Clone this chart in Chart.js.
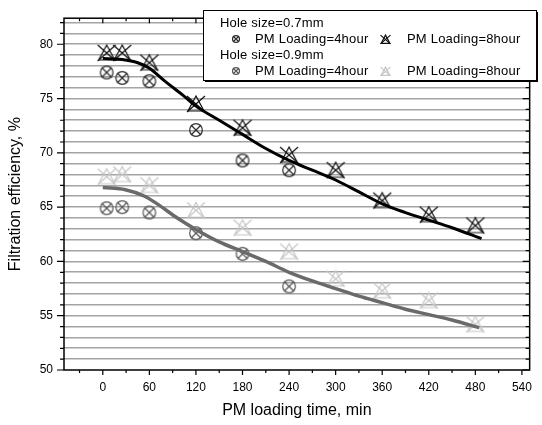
<!DOCTYPE html>
<html lang="en">
<head>
  <meta charset="UTF-8">
  <title>Filtration efficiency vs PM loading time</title>
  <script src="https://cdn.jsdelivr.net/npm/chart.js"></script>
  <style>
    html, body { margin: 0; padding: 0; background: #fff; }
    #wrap { width: 542px; height: 425px; }
  </style>
</head>
<body>
  <div id="wrap"><canvas id="chart" width="542" height="425"></canvas></div>

  <script>
    // measured points
    const time4h = [5, 25, 60, 120, 180, 240];
    const time8h = [5, 25, 60, 120, 180, 240, 300, 360, 420, 480];
    const hole07Load4h = [77.4, 76.9, 76.6, 72.1, 69.3, 68.4];
    const hole07Load8h = [79.2, 79.2, 78.3, 74.5, 72.3, 69.8, 68.4, 65.6, 64.3, 63.3];
    const hole09Load4h = [64.9, 65.0, 64.5, 62.6, 60.7, 57.7];
    const hole09Load8h = [67.8, 68.0, 67.0, 64.7, 63.1, 60.9, 58.4, 57.3, 56.4, 54.2];

    // fitted curves
    const fit07Time = [0, 25, 45, 60, 80, 105, 120, 150, 180, 210, 240, 270, 300, 330, 360, 390, 420, 450, 488];
    const fit07Eff = [78.7, 78.6, 78.3, 77.8, 76.6, 75.2, 74.3, 73.0, 71.7, 70.4, 69.3, 68.4, 67.5, 66.4, 65.3, 64.5, 63.8, 63.1, 62.1];
    const fit09Time = [0, 29, 54, 70, 96, 121, 150, 180, 210, 240, 270, 300, 330, 360, 390, 420, 450, 485];
    const fit09Eff = [66.8, 66.6, 66.0, 65.3, 64.0, 62.9, 61.8, 60.9, 60.0, 59.0, 58.2, 57.5, 56.8, 56.2, 55.6, 55.1, 54.6, 53.9];

    const xTicks = [-30, 0, 30, 60, 90, 120, 150, 180, 210, 240, 270, 300, 330, 360, 390, 420, 450, 480, 510, 540];
    const yTicks = [50, 51, 52, 53, 54, 55, 56, 57, 58, 59, 60, 61, 62, 63, 64, 65, 66, 67, 68, 69, 70, 71, 72, 73, 74, 75, 76, 77, 78, 79, 80, 81, 82];

    const FONT = '"Liberation Sans", Arial, sans-serif';

    function circleX(color, s) {
      const c = document.createElement('canvas');
      const n = Math.ceil(18 * s);
      c.width = n; c.height = n;
      const g = c.getContext('2d');
      g.strokeStyle = color;
      g.lineWidth = 1.2;
      const m = n / 2, r = 6.3 * s;
      g.beginPath(); g.arc(m, m, r, 0, Math.PI * 2); g.stroke();
      const d = r * 0.8;
      g.beginPath();
      g.moveTo(m - d, m - d); g.lineTo(m + d, m + d);
      g.moveTo(m + d, m - d); g.lineTo(m - d, m + d);
      g.stroke();
      return c;
    }

    function triX(color, s) {
      const c = document.createElement('canvas');
      const n = Math.ceil(22 * s);
      c.width = n; c.height = n;
      const g = c.getContext('2d');
      g.strokeStyle = color;
      g.lineWidth = 1.2;
      const m = n / 2;
      g.beginPath();
      g.moveTo(m, m - 8 * s); g.lineTo(m + 8 * s, m + 7 * s); g.lineTo(m - 8 * s, m + 7 * s); g.closePath();
      g.stroke();
      g.beginPath();
      g.moveTo(m - 9 * s, m - 8 * s); g.lineTo(m + 9 * s, m + 8 * s);
      g.moveTo(m + 9 * s, m - 8 * s); g.lineTo(m - 9 * s, m + 8 * s);
      g.stroke();
      return c;
    }

    const C07_4 = '#2a2a2a', C07_8 = '#111111', C09_4 = '#555555', C09_8 = '#c6c6c6';

    const pts = (xs, ys) => xs.map((x, i) => ({ x: x, y: ys[i] }));

    const frame = {
      id: 'frame',
      afterDatasetsDraw(chart) {
        const ctx = chart.ctx, a = chart.chartArea;
        const xs = chart.scales.x, ys = chart.scales.y;
        ctx.save();
        ctx.strokeStyle = '#000';
        ctx.lineWidth = 1.5;
        ctx.strokeRect(a.left, a.top, a.right - a.left, a.bottom - a.top);
        ctx.lineWidth = 1.2;
        ctx.beginPath();
        xTicks.forEach(v => {
          const px = xs.getPixelForValue(v);
          const major = v % 60 === 0;
          ctx.moveTo(px, a.bottom); ctx.lineTo(px, a.bottom + (major ? 5 : 3));
          ctx.moveTo(px, a.top); ctx.lineTo(px, a.top + (major ? 5 : 3));
        });
        yTicks.forEach(v => {
          const py = ys.getPixelForValue(v);
          const major = v % 5 === 0;
          ctx.moveTo(a.left, py); ctx.lineTo(a.left - (major ? 7 : 4), py);
          ctx.moveTo(a.right, py); ctx.lineTo(a.right - (major ? 7 : 4), py);
        });
        ctx.stroke();

        // legend box
        const L = 203, T = 10, R = 536, B = 80;
        ctx.fillStyle = '#000';
        ctx.fillRect(L + 2, T + 2, R - L, B - T);
        ctx.fillStyle = '#fff';
        ctx.fillRect(L, T, R - L, B - T);
        ctx.lineWidth = 1;
        ctx.strokeRect(L + 0.5, T + 0.5, R - L, B - T);

        ctx.fillStyle = '#000';
        ctx.font = '13px ' + FONT;
        ctx.letterSpacing = '0.2px';
        ctx.textBaseline = 'middle';
        ctx.fillText('Hole size=0.7mm', 220, 23);
        ctx.fillText('PM Loading=4hour', 255, 39);
        ctx.fillText('PM Loading=8hour', 407, 39);
        ctx.fillText('Hole size=0.9mm', 220, 55);
        ctx.fillText('PM Loading=4hour', 255, 71);
        ctx.fillText('PM Loading=8hour', 407, 71);
        const put = (img, x, y) => ctx.drawImage(img, Math.round(x - img.width / 2), Math.round(y - img.height / 2));
        put(circleX(C07_4, 0.55), 236, 39);
        put(triX(C07_8, 0.55), 385, 39);
        put(circleX(C09_4, 0.55), 236, 71);
        put(triX(C09_8, 0.55), 385, 71);
        ctx.restore();
      }
    };

    new Chart(document.getElementById('chart'), {
      type: 'scatter',
      data: {
        datasets: [
          { label: 'fit 0.7mm', data: pts(fit07Time, fit07Eff), showLine: true, borderColor: '#000', borderWidth: 3, pointRadius: 0, cubicInterpolationMode: 'monotone', order: 0 },
          { label: 'fit 0.9mm', data: pts(fit09Time, fit09Eff), showLine: true, borderColor: '#6a6a6a', borderWidth: 3.5, pointRadius: 0, cubicInterpolationMode: 'monotone', order: 0 },
          { label: '0.7mm 4hour', data: pts(time4h, hole07Load4h), pointStyle: circleX(C07_4, 1), order: 1 },
          { label: '0.7mm 8hour', data: pts(time8h, hole07Load8h), pointStyle: triX(C07_8, 1), order: 1 },
          { label: '0.9mm 4hour', data: pts(time4h, hole09Load4h), pointStyle: circleX(C09_4, 1), order: 1 },
          { label: '0.9mm 8hour', data: pts(time8h, hole09Load8h), pointStyle: triX(C09_8, 1), order: 1 }
        ]
      },
      options: {
        responsive: false,
        animation: false,
        layout: { padding: { top: 7, right: 2, left: 0, bottom: 0 } },
        plugins: { legend: { display: false }, tooltip: { enabled: false } },
        scales: {
          x: {
            type: 'linear', min: -50, max: 550,
            afterBuildTicks: s => { s.ticks = xTicks.map(v => ({ value: v })); },
            afterFit: s => { s.height = 55; },
            grid: { display: false, drawTicks: false },
            border: { display: false },
            ticks: {
              padding: 10, color: '#000', font: { family: FONT, size: 12 },
              autoSkip: false, maxRotation: 0, minRotation: 0,
              callback: v => (v % 60 === 0 ? String(v) : '')
            },
            title: { display: true, text: 'PM loading time, min', color: '#000', font: { family: FONT, size: 16 }, padding: { top: 5, bottom: 5 } }
          },
          y: {
            type: 'linear', min: 50, max: 82.4,
            afterBuildTicks: s => { s.ticks = yTicks.map(v => ({ value: v })); },
            afterFit: s => { s.width = 64; },
            grid: { color: c => (c.tick.value === 50 ? 'rgba(0,0,0,0)' : '#a4a4a4'), lineWidth: 1.6, drawTicks: false },
            border: { display: false },
            ticks: {
              padding: 11, color: '#000', font: { family: FONT, size: 12 },
              autoSkip: false,
              callback: v => (v % 5 === 0 ? String(v) : '')
            },
            title: { display: true, text: 'Filtration efficiency, %', color: '#000', font: { family: FONT, size: 16 }, padding: { top: 6, bottom: 6 } }
          }
        }
      },
      plugins: [frame]
    });
  </script>
</body>
</html>
